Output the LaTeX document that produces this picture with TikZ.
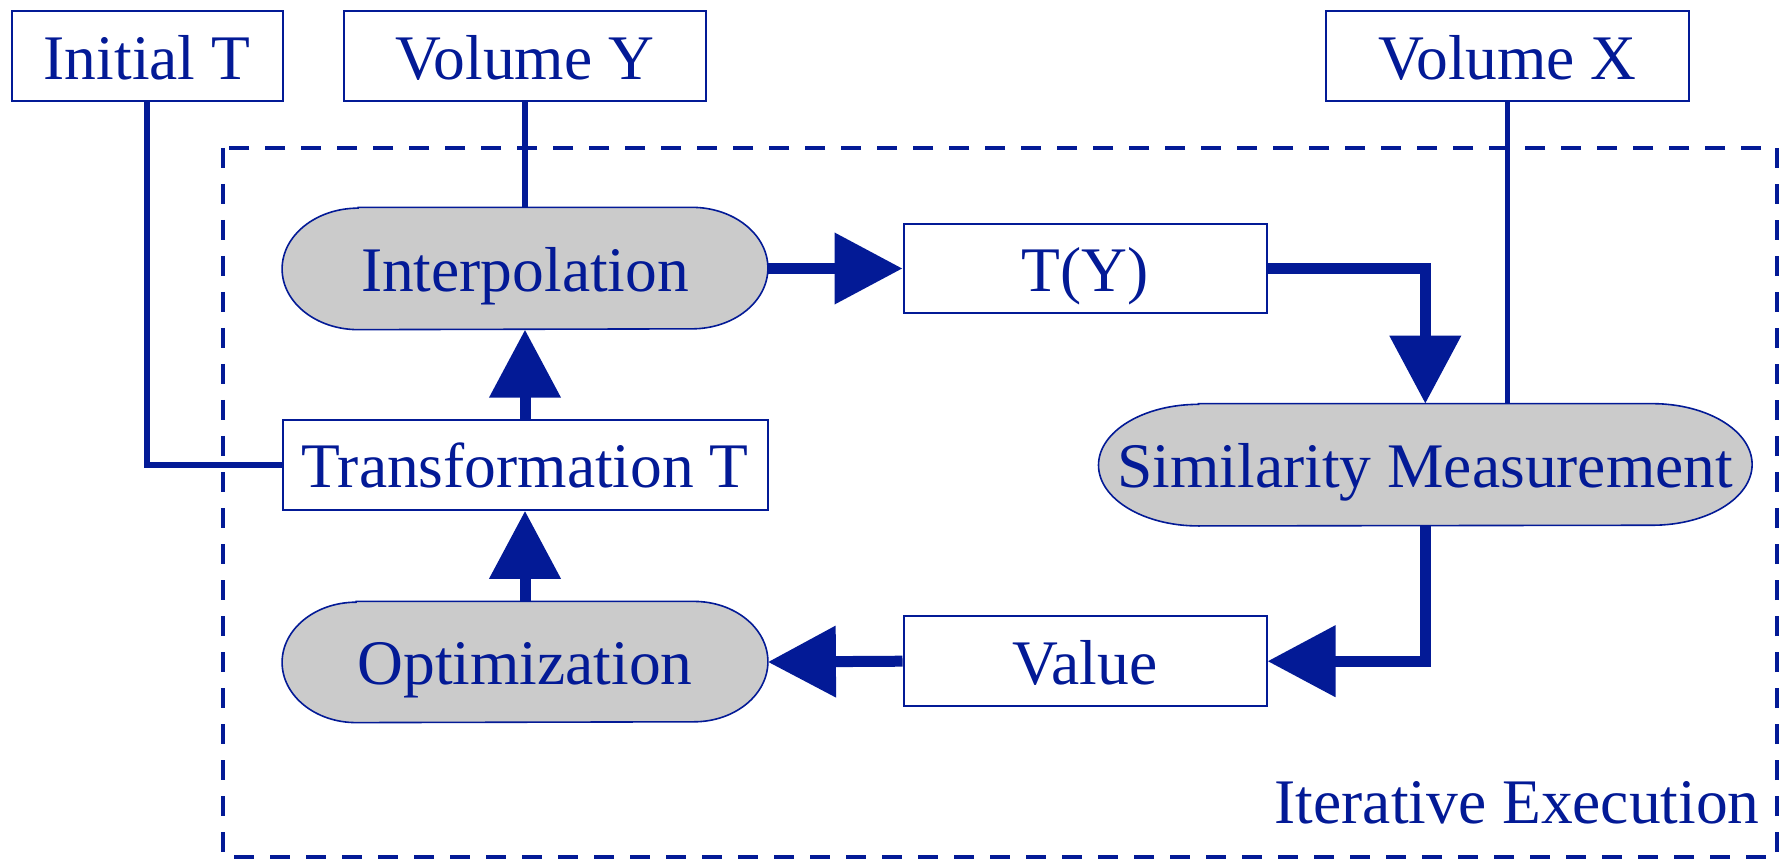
\documentclass[tikz,border=0pt]{standalone}
\usepackage{fontspec}
\setmainfont{Liberation Serif}
\usetikzlibrary{arrows.meta,calc,backgrounds}
\definecolor{navy}{HTML}{031A96}
\definecolor{shade}{HTML}{CBCBCB}
\newcommand\pillshape[3]{%
  \path[draw=navy, line width=0.8pt, fill=shade]
    ($(#1.north west)+(#2pt,0pt)$) -- ($(#1.north east)-(#2pt,0pt)$)
    arc[start angle=90,end angle=-90,x radius=#2pt,y radius=#3pt]
    -- ($(#1.south west)+(#2pt,0pt)$)
    arc[start angle=270,end angle=90,x radius=#2pt,y radius=#3pt] -- cycle;}
\begin{document}
\begin{tikzpicture}[x=0.5pt,y=-0.5pt,
  every node/.style={font=\fontsize{31.75}{38}\selectfont, text=navy, inner sep=0pt,
                     text height=24.8pt, text depth=1.9pt},
  box/.style={draw=navy, line width=1pt, fill=white, minimum height=44.85pt},
  pill/.style={minimum height=60.75pt},
  thinline/.style={draw=navy, line width=2.75pt},
  flow/.style={draw=navy, line width=5.5pt, -{Triangle[length=34pt,width=34.5pt]}},
  frame/.style={draw=navy, line width=2.15pt, dash pattern=on 10pt off 8pt}
]
\useasboundingbox (0,0) rectangle (1780,860);

\draw[frame] (223,148) rectangle (1777,857);

\node[box, minimum width=135.5pt] (init) at (147,56.2) {Initial T};
\node[box, minimum width=181pt] (voly) at (525,56.2) {Volume Y};
\node[box, minimum width=181.5pt] (volx) at (1507.6,56.2) {Volume X};
\node[box, minimum width=181.5pt] (ty) at (1085,268.5) {T(Y)};
\node[box, minimum width=242.5pt] (trans) at (525,465) {Transformation T};
\node[box, minimum width=181.5pt] (value) at (1085,661.2) {Value};

\node[pill, minimum width=242.5pt] (interp) at (525,268.5) {Interpolation};
\node[pill, minimum width=326.4pt] (sim) at (1425.3,464.8) {Similarity Measurement};
\node[pill, minimum width=242.5pt, minimum height=60.2pt] (opt) at (525,662) {Optimization};

\begin{scope}[on background layer]
  \pillshape{interp}{38}{30.375}
  \pillshape{sim}{50}{30.4}
  \pillshape{opt}{37}{30.1}
\end{scope}

\node[anchor=base east] (iter) at (1760,823) {Iterative Execution};

\draw[thinline] (init.south) |- (trans.west);
\draw[thinline] (voly.south) -- (interp.north);
\draw[thinline] (volx.south) -- (volx.south |- sim.north);

\draw[flow] (interp.east) -- (ty.west);
\draw[flow] (ty.east) -| (sim.north);
\draw[flow] (sim.south) |- (value.east);
\draw[flow] (value.west) -- (opt.east);
\draw[flow] (opt.north) -- (trans.south);
\draw[flow] (trans.north) -- (interp.south);
\end{tikzpicture}
\end{document}
